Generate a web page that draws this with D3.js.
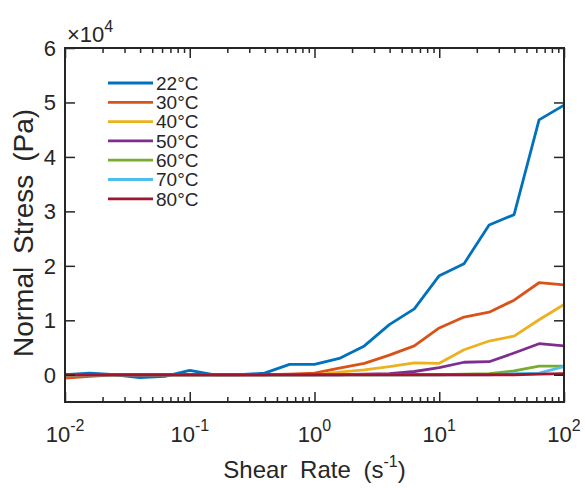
<!DOCTYPE html>
<html>
<head>
<meta charset="utf-8">
<script src="https://cdn.jsdelivr.net/npm/d3@7"></script>
<style>
  body { margin: 0; background: #fff; }
  text { font-family: "Liberation Sans", Arial, sans-serif; fill: #262626; }
</style>
</head>
<body>
<div id="chart"></div>
<script>
// shear rates (1/s), log spaced
const shearRates = [0.01, 0.0158, 0.0251, 0.0398, 0.0631, 0.1, 0.158, 0.251, 0.398, 0.631,
  1, 1.58, 2.51, 3.98, 6.31, 10, 15.8, 25.1, 39.8, 63.1, 100];

// temperatures shown in the legend
const temps = ["22°C", "30°C", "40°C", "50°C", "60°C", "70°C", "80°C"];

// normal stress (Pa), one array per temperature
const stress22 = [0, 300, 0, -500, -300, 800, 0, 0, 300, 1900, 1900, 3000, 5300, 9200, 12100, 18200, 20400, 27500, 29400, 46800, 49500];
const stress30 = [-600, -300, 0, 0, 0, 0, 0, 0, 0, 100, 300, 1200, 2100, 3600, 5300, 8600, 10600, 11500, 13700, 16900, 16500];
const stress40 = [-200, 0, 0, 0, 0, 0, 0, 0, 0, 0, 0, 500, 900, 1500, 2200, 2100, 4600, 6200, 7100, 10100, 12900];
const stress50 = [0, 0, 0, 0, 0, 0, 0, 0, 0, 0, 0, 0, 100, 200, 600, 1300, 2300, 2400, 4000, 5700, 5300];
const stress60 = [0, 0, 0, 0, 0, 0, 0, 0, 0, 0, 0, 0, 0, 0, 0, 0, 100, 200, 700, 1600, 1600];
const stress70 = [0, 0, 0, 0, 0, 0, 0, 0, 0, 0, 0, 0, 0, 0, 0, 0, 0, 0, 200, 300, 1500];
const stress80 = [0, 0, 0, 0, 0, 0, 0, 0, 0, 0, 0, 0, 0, 0, 0, 0, 0, 0, 0, 100, 200];

const xTicks = [0.01, 0.1, 1, 10, 100];
const xExponents = ["-2", "-1", "0", "1", "2"];
const yTicks = [0, 10000, 20000, 30000, 40000, 50000, 60000];

// MATLAB default line colours
const colors = ["#0072BD", "#D95319", "#EDB120", "#7E2F8E", "#77AC30", "#4DBEEE", "#A2142F"];

const series = [stress22, stress30, stress40, stress50, stress60, stress70, stress80]
  .map((vals, i) => ({
    name: temps[i],
    color: colors[i],
    values: vals.map((v, j) => ({ x: shearRates[j], y: v }))
  }));

const width = 585,
  height = 488,
  padLeft = 65,
  padRight = 564,
  padTop = 48,
  padBtm = 402;

const svg = d3.select("#chart")
  .append("svg")
  .attr("width", width)
  .attr("height", height);

const x = d3.scaleLog()
  .domain([0.01, 100])
  .range([padLeft, padRight]);

const y = d3.scaleLinear()
  .domain([-5000, 60000])
  .range([padBtm, padTop]);

// minor ticks for the log axis: 2..9 in every decade
const minorTicks = x.ticks().filter(t => !xTicks.includes(t));

const axisColor = "#262626";

function styleAxis(g) {
  g.select(".domain").remove();
  g.selectAll("line").attr("stroke", axisColor).attr("stroke-width", 1.5);
}

// data lines (clipped to the axes box)
svg.append("clipPath")
  .attr("id", "clip")
  .append("rect")
  .attr("x", padLeft)
  .attr("y", padTop)
  .attr("width", padRight - padLeft)
  .attr("height", padBtm - padTop);

const line = d3.line()
  .x(d => x(d.x))
  .y(d => y(d.y));

svg.append("g")
  .attr("clip-path", "url(#clip)")
  .selectAll("path")
  .data(series)
  .enter()
  .append("path")
  .attr("d", d => line(d.values))
  .attr("fill", "none")
  .attr("stroke", d => d.color)
  .attr("stroke-width", 2.8)
  .attr("stroke-linejoin", "round");

// ticks pointing inward on all four sides
svg.append("g")
  .attr("transform", "translate(0," + padBtm + ")")
  .call(d3.axisBottom(x).tickValues(xTicks).tickSize(-10).tickFormat(""))
  .call(styleAxis);
svg.append("g")
  .attr("transform", "translate(0," + padBtm + ")")
  .call(d3.axisBottom(x).tickValues(minorTicks).tickSize(-5).tickFormat(""))
  .call(styleAxis);
svg.append("g")
  .attr("transform", "translate(0," + padTop + ")")
  .call(d3.axisTop(x).tickValues(xTicks).tickSize(-10).tickFormat(""))
  .call(styleAxis);
svg.append("g")
  .attr("transform", "translate(0," + padTop + ")")
  .call(d3.axisTop(x).tickValues(minorTicks).tickSize(-5).tickFormat(""))
  .call(styleAxis);
svg.append("g")
  .attr("transform", "translate(" + padLeft + ",0)")
  .call(d3.axisLeft(y).tickValues(yTicks).tickSize(-10).tickFormat(""))
  .call(styleAxis);
svg.append("g")
  .attr("transform", "translate(" + padRight + ",0)")
  .call(d3.axisRight(y).tickValues(yTicks).tickSize(-10).tickFormat(""))
  .call(styleAxis);

// axes box
svg.append("rect")
  .attr("x", padLeft)
  .attr("y", padTop)
  .attr("width", padRight - padLeft)
  .attr("height", padBtm - padTop)
  .attr("fill", "none")
  .attr("stroke", axisColor)
  .attr("stroke-width", 2);

// y tick labels (in units of 10^4)
svg.append("g")
  .selectAll("text")
  .data(yTicks)
  .enter()
  .append("text")
  .attr("x", padLeft - 9)
  .attr("y", d => y(d))
  .attr("dy", "0.36em")
  .attr("text-anchor", "end")
  .style("font-size", "22px")
  .text(d => d / 10000);

// x tick labels 10^n
const xLabels = svg.append("g")
  .selectAll("text")
  .data(xTicks)
  .enter()
  .append("text")
  .attr("x", d => x(d))
  .attr("y", 442)
  .attr("text-anchor", "middle")
  .style("font-size", "22px");
xLabels.append("tspan").text("10");
xLabels.append("tspan")
  .attr("dy", -11)
  .style("font-size", "16px")
  .text((d, i) => xExponents[i]);

// exponent note above the y axis
const expNote = svg.append("text")
  .attr("x", 67)
  .attr("y", 42)
  .style("font-size", "22px");
expNote.append("tspan").text("×10");
expNote.append("tspan")
  .attr("dy", -10)
  .style("font-size", "16px")
  .text("4");

// axis titles
const xTitle = svg.append("text")
  .attr("x", (padLeft + padRight) / 2)
  .attr("y", 478)
  .attr("text-anchor", "middle")
  .style("font-size", "24px")
  .style("word-spacing", "6px");
xTitle.append("tspan").text("Shear Rate (s");
xTitle.append("tspan")
  .attr("dy", -11)
  .style("font-size", "16px")
  .text("-1");
xTitle.append("tspan")
  .attr("dy", 11)
  .text(")");

svg.append("text")
  .attr("transform", "translate(33,233) rotate(-90)")
  .attr("text-anchor", "middle")
  .style("font-size", "28px")
  .style("word-spacing", "5px")
  .text("Normal Stress (Pa)");

// legend without a box
const legend = svg.append("g")
  .selectAll("g")
  .data(series)
  .enter()
  .append("g")
  .attr("transform", (d, i) => "translate(108," + (83 + i * 19.3) + ")");
legend.append("line")
  .attr("x1", 0)
  .attr("x2", 45)
  .attr("stroke", d => d.color)
  .attr("stroke-width", 2.8);
legend.append("text")
  .attr("x", 48)
  .attr("dy", "0.36em")
  .style("font-size", "19px")
  .text(d => d.name);
</script>
</body>
</html>
